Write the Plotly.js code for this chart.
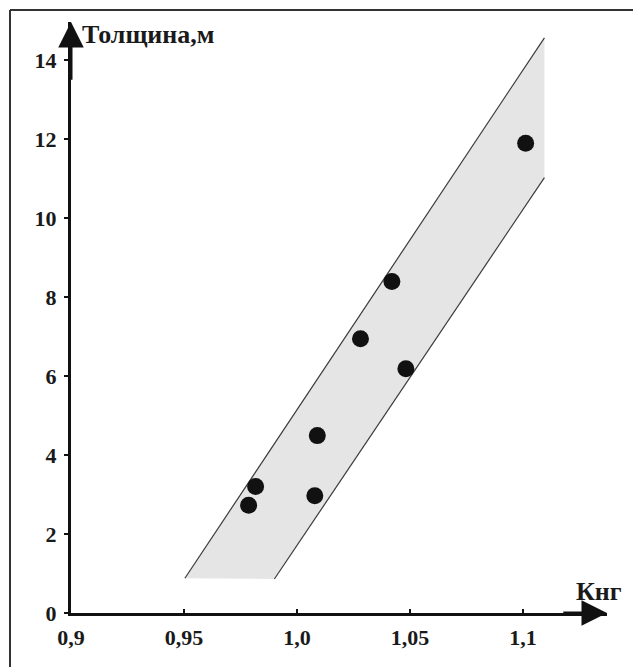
<!DOCTYPE html>
<html>
<head>
<meta charset="utf-8">
<script src="https://cdn.plot.ly/plotly-3.0.1.min.js"></script>
<style>html,body{margin:0;padding:0;background:#fff;}#chart{width:633px;height:667px;}</style>
</head>
<body>
<div id="chart"></div>
<script>
// Data points: coefficient Кнг vs thickness (m)
const kng = [0.9786, 0.9817, 1.0079, 1.0090, 1.0281, 1.0420, 1.0482, 1.1012];
const thickness = [2.73, 3.20, 2.97, 4.49, 6.94, 8.39, 6.18, 11.89];

// Confidence band limits
const upperX = [0.9504, 1.1095];
const upperY = [0.88, 14.56];
const lowerX = [0.990, 1.1095];
const lowerY = [0.86, 11.02];

// Tick labels
const xTickVals = [0.9, 0.95, 1.0, 1.05, 1.1];
const xTickText = ['0,9', '0,95', '1,0', '1,05', '1,1'];
const yTickVals = [0, 2, 4, 6, 8, 10, 12, 14];
const yTickText = ['0', '2', '4', '6', '8', '10', '12', '14'];

const xTitle = 'Кнг';
const yTitle = 'Толщина,м';

const xMin = 0.9, xMax = 1.1372;
const yMin = 0, yMax = 14.96;

const FONT = 'Liberation Serif, Times New Roman, serif';

const band = {
  x: [upperX[0], upperX[1], lowerX[1], lowerX[0]],
  y: [upperY[0], upperY[1], lowerY[1], lowerY[0]],
  type: 'scatter', mode: 'lines', fill: 'toself',
  fillcolor: '#e5e5e5', line: {width: 0, color: 'rgba(0,0,0,0)'},
  hoverinfo: 'skip', showlegend: false
};
const upper = {x: upperX, y: upperY, type: 'scatter', mode: 'lines',
  line: {color: '#3a3a3a', width: 1.2}, showlegend: false};
const lower = {x: lowerX, y: lowerY, type: 'scatter', mode: 'lines',
  line: {color: '#3a3a3a', width: 1.2}, showlegend: false};
const pts = {x: kng, y: thickness, type: 'scatter', mode: 'markers',
  marker: {size: 17, color: '#111'}, showlegend: false, cliponaxis: false};

const W = 633, H = 667, L = 71, R = 26, T = 22, B = 54;
const pw = W - L - R, ph = H - T - B;
const frameX = (10 - L) / pw;
const frameY = 1 + (T - 10) / ph;

const layout = {
  width: W, height: H,
  margin: {l: L, r: R, t: T, b: B, pad: 0},
  paper_bgcolor: '#fff', plot_bgcolor: '#fff',
  showlegend: false,
  xaxis: {
    range: [xMin, xMax], tickvals: xTickVals, ticktext: xTickText,
    showgrid: false, zeroline: false, showline: true, linecolor: '#111', linewidth: 3,
    ticks: 'inside', ticklen: 4, tickwidth: 1.5, tickcolor: '#111',
    tickfont: {family: FONT, size: 22, color: '#1a1a1a', weight: 700},
    ticklabelstandoff: 3
  },
  yaxis: {
    range: [yMin, yMax], tickvals: yTickVals, ticktext: yTickText,
    showgrid: false, zeroline: false, showline: true, linecolor: '#111', linewidth: 3,
    ticks: 'outside', ticklen: 4, tickwidth: 1.5, tickcolor: '#111',
    tickfont: {family: FONT, size: 22, color: '#1a1a1a', weight: 700},
    ticklabelstandoff: 3
  },
  annotations: [
    {x: xMin, y: yMax, ax: xMin, ay: yMax - 1.5, xref: 'x', yref: 'y', axref: 'x', ayref: 'y',
     text: '', showarrow: true, arrowhead: 2, arrowsize: 1.7, arrowwidth: 3, arrowcolor: '#111', standoff: 0},
    {x: xMax, y: yMin, ax: xMax - 0.02, ay: yMin, xref: 'x', yref: 'y', axref: 'x', ayref: 'y',
     text: '', showarrow: true, arrowhead: 2, arrowsize: 1.7, arrowwidth: 3, arrowcolor: '#111', standoff: 0},
    {x: xMin, y: yMax, xref: 'x', yref: 'y', xanchor: 'left', yanchor: 'middle', xshift: 9, yshift: -12,
     text: yTitle, showarrow: false, font: {family: FONT, size: 26, color: '#1a1a1a', weight: 700}},
    {x: xMax, y: yMin, xref: 'x', yref: 'y', xanchor: 'right', yanchor: 'middle', xshift: 17, yshift: 22,
     text: xTitle, showarrow: false, font: {family: FONT, size: 26, color: '#1a1a1a', weight: 700}}
  ],
  shapes: [
    {type: 'line', xref: 'paper', yref: 'paper', x0: frameX, x1: frameX, y0: -0.2, y1: frameY,
     line: {color: '#333', width: 2}},
    {type: 'line', xref: 'paper', yref: 'paper', x0: frameX, x1: 1.2, y0: frameY, y1: frameY,
     line: {color: '#333', width: 2}}
  ]
};

Plotly.newPlot('chart', [band, upper, lower, pts], layout, {displayModeBar: false, staticPlot: true});
</script>
</body>
</html>
